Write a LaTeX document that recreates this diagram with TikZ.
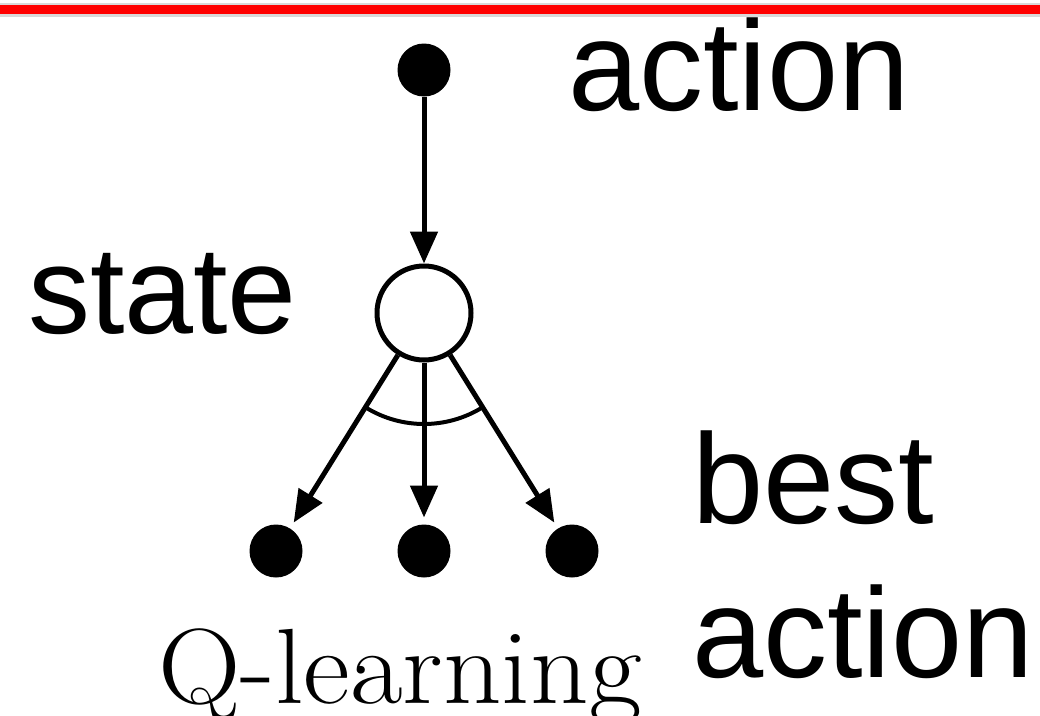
\documentclass[tikz,border=0pt]{standalone}
\usepackage{fontspec}
\newfontfamily\arialfont{Liberation Sans}
\usetikzlibrary{arrows.meta}
\tikzset{
  dot/.style={circle, fill=black, draw=none, minimum size=53pt, inner sep=0pt, outer sep=0pt},
  statenode/.style={circle, draw=black, line width=5pt, fill=white, minimum size=94pt, inner sep=0pt, outer sep=2.5pt},
  arr/.style={line width=5pt, -{Triangle[length=32pt,width=27pt]}},
  bigtext/.style={anchor=base west, inner sep=0pt, outer sep=0pt, font=\arialfont\fontsize{128}{128}\selectfont},
}
\begin{document}
\begin{tikzpicture}[x=1pt,y=1pt]
\useasboundingbox (0,0) rectangle (1040,-715);
\fill[white] (0,0) rectangle (1040,-715);
% red top rule with soft shadow
\fill[gray!30] (0,-3) rectangle (1040,-17);
\fill[red] (0,-5) rectangle (1040,-13.5);
% nodes
\node[dot] (top) at (424,-70) {};
\node[statenode] (st) at (424,-313) {};
\node[dot] (b1) at (276,-551) {};
\node[dot] (b2) at (424,-551) {};
\node[dot] (b3) at (572,-551) {};
% connectors
\draw[arr] (top) -- (st);
\draw[arr, shorten >=7pt] (st) -- (b1);
\draw[arr, shorten >=7pt] (st) -- (b2);
\draw[arr, shorten >=7pt] (st) -- (b3);
% max arc
\draw[line width=4pt] (st.center) ++(238.1:111) arc[start angle=238.1, end angle=301.9, radius=111];
% labels
\node[bigtext] (lact) at (568,-110) {action};
\node[bigtext, font=\arialfont\fontsize{124}{124}\selectfont] (lstate) at (28,-333) {state};
\node[bigtext] (lbest) at (692,-523) {best};
\node[bigtext] (lbact) at (692,-677) {action};
\node[anchor=base west, inner sep=0pt, font=\fontsize{107}{107}\selectfont] (lq) at (158,-703) {\scalebox{1.07}[1]{Q-learning}};
\end{tikzpicture}
\end{document}
